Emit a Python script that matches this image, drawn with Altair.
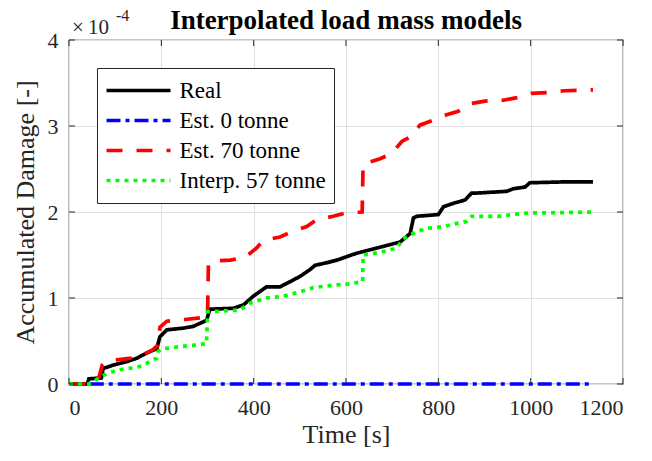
import altair as alt
import pandas as pd

# ---- data (damage in units of 1e-4) ----
real_t = [0, 40, 43, 70, 74, 96, 125, 147, 168, 190, 197, 212, 248, 269, 298, 305, 356, 378, 399, 428,
          457, 479, 500, 522, 533, 558, 580, 601, 623, 637, 681, 717, 739, 746, 753, 800, 811, 832, 858,
          872, 883, 948, 962, 988, 998, 1071, 1135]
real_v = [0, 0, 0.06, 0.07, 0.18, 0.22, 0.26, 0.30, 0.36, 0.41, 0.55, 0.63, 0.65, 0.67, 0.74, 0.87, 0.88,
          0.92, 1.02, 1.13, 1.13, 1.19, 1.25, 1.33, 1.38, 1.41, 1.44, 1.48, 1.52, 1.54, 1.60, 1.65, 1.75,
          1.93, 1.95, 1.97, 2.06, 2.10, 2.14, 2.22, 2.22, 2.24, 2.27, 2.29, 2.34, 2.35, 2.35]

est0_t = [45, 300, 600, 900, 1130]
est0_v = [0, 0, 0, 0, 0]

est70_t = [0, 40, 45, 65, 72, 80, 103, 136, 161, 182, 192, 197, 212, 251, 284, 300, 302, 312, 349, 381,
           406, 421, 457, 482, 515, 536, 572, 601, 635, 637, 650, 674, 699, 721, 742, 760, 786, 818, 843,
           869, 901, 941, 970, 1002, 1038, 1074, 1135]
est70_v = [0, 0, 0.04, 0.08, 0.22, 0.26, 0.28, 0.30, 0.34, 0.40, 0.45, 0.66, 0.73, 0.75, 0.77, 0.77, 1.40,
           1.43, 1.44, 1.47, 1.58, 1.67, 1.71, 1.77, 1.83, 1.91, 1.95, 1.99, 2.00, 2.55, 2.58, 2.62, 2.68,
           2.82, 2.88, 3.01, 3.06, 3.13, 3.17, 3.26, 3.29, 3.30, 3.33, 3.38, 3.39, 3.41, 3.42]

interp_t = [0, 42, 53, 74, 103, 125, 147, 168, 190, 193, 204, 233, 269, 298, 300, 305, 370, 392, 428, 464,
            500, 529, 572, 601, 636, 637, 674, 710, 724, 753, 775, 811, 825, 861, 872, 933, 962, 998, 1035,
            1135]
interp_v = [0, 0, 0.03, 0.10, 0.16, 0.18, 0.19, 0.24, 0.30, 0.38, 0.41, 0.43, 0.45, 0.47, 0.84, 0.84, 0.86,
            0.94, 1.00, 1.02, 1.07, 1.12, 1.15, 1.16, 1.19, 1.50, 1.53, 1.58, 1.69, 1.77, 1.81, 1.83, 1.85,
            1.89, 1.95, 1.95, 1.97, 1.99, 1.99, 2.00]

series_names = ["Real", "Est. 0 tonne", "Est. 70 tonne", "Interp. 57 tonne"]
series_colors = ["#000000", "#0000ff", "#ff0000", "#00ff00"]
series_dashes = [[1, 0], [14, 5, 4, 5], [16, 14], [4, 5]]

x_ticks = [0, 200, 400, 600, 800, 1000, 1200]
y_ticks = [0, 1, 2, 3, 4]

title_text = "Interpolated load mass models"

rows = []
for name, ts, vs in zip(series_names, [real_t, est0_t, est70_t, interp_t],
                        [real_v, est0_v, est70_v, interp_v]):
    for i, (t, v) in enumerate(zip(ts, vs)):
        rows.append({"series": name, "t": t, "v": v, "idx": i})
df = pd.DataFrame(rows)

W, H = 554, 344
font = "Times New Roman, Liberation Serif, serif"
ink = "#262626"

x_enc = alt.X("t:Q", title="Time [s]", scale=alt.Scale(domain=[0, 1200], nice=False),
              axis=alt.Axis(values=x_ticks, format="d", labelPadding=13, titlePadding=3,
                            labelFont=font, titleFont=font))
y_enc = alt.Y("v:Q", title="Accumulated Damage [-]", scale=alt.Scale(domain=[0, 4], nice=False),
              axis=alt.Axis(values=y_ticks, format="d", labelPadding=11, titlePadding=9,
                            labelFont=font, titleFont=font))

legend = alt.Legend(title=None, orient="none", legendX=28, legendY=28,
                    symbolType="stroke", symbolSize=4096, symbolStrokeWidth=3.5,
                    labelFont=font, labelFontSize=23, labelColor="black", labelOffset=7,
                    labelLimit=400, clipHeight=30, rowPadding=0, padding=7.5,
                    strokeColor=ink, fillColor="white", cornerRadius=0)

lines = alt.Chart(df).mark_line(strokeWidth=3.7).encode(
    x=x_enc,
    y=y_enc,
    color=alt.Color("series:N", scale=alt.Scale(domain=series_names, range=series_colors), legend=legend),
    strokeDash=alt.StrokeDash("series:N", scale=alt.Scale(domain=series_names, range=series_dashes),
                              legend=legend),
    order=alt.Order("idx:Q"),
)

xt = pd.DataFrame({"t": x_ticks})
yt = pd.DataFrame({"v": y_ticks})
tick_len = 6
bottom_ticks = alt.Chart(xt).mark_rule(color=ink, strokeWidth=1).encode(
    x=x_enc, y=alt.value(H), y2=alt.value(H - tick_len))
top_ticks = alt.Chart(xt).mark_rule(color=ink, strokeWidth=1).encode(
    x=x_enc, y=alt.value(0), y2=alt.value(tick_len))
left_ticks = alt.Chart(yt).mark_rule(color=ink, strokeWidth=1).encode(
    y=y_enc, x=alt.value(0), x2=alt.value(tick_len))
right_ticks = alt.Chart(yt).mark_rule(color=ink, strokeWidth=1).encode(
    y=y_enc, x=alt.value(W), x2=alt.value(W - tick_len))

exp_base = alt.Chart(pd.DataFrame({"s": ["×\u200910"]})).mark_text(
    font=font, fontSize=21, align="left", baseline="alphabetic", color=ink
).encode(text="s:N", x=alt.value(3), y=alt.value(-6))
exp_sup = alt.Chart(pd.DataFrame({"s": ["-4"]})).mark_text(
    font=font, fontSize=16, align="left", baseline="alphabetic", color=ink
).encode(text="s:N", x=alt.value(47), y=alt.value(-19))

title_mark = alt.Chart(pd.DataFrame({"s": [title_text]})).mark_text(
    font=font, fontSize=27, fontWeight="bold", align="center", baseline="alphabetic", color="black"
).encode(text="s:N", x=alt.value(W / 2), y=alt.value(-11))

chart = alt.layer(lines, bottom_ticks, top_ticks, left_ticks, right_ticks,
                  exp_base, exp_sup, title_mark).properties(
    width=W, height=H,
    autosize=alt.AutoSizeParams(type="none"),
    padding={"left": 69, "top": 40, "right": 29, "bottom": 77},
).configure(
    font=font
).configure_view(
    stroke=ink, strokeWidth=1.2
).configure_axis(
    grid=True, gridColor="#e0e0e0", gridWidth=1, domain=False, ticks=False,
    labelFont=font, labelFontSize=22, labelColor=ink, labelOverlap=False,
    titleFont=font, titleFontSize=26, titleFontWeight="normal", titleColor=ink,
).configure_legend(
    labelFont=font
)

chart.save("out.html", embed_options={"renderer": "svg", "actions": False})
